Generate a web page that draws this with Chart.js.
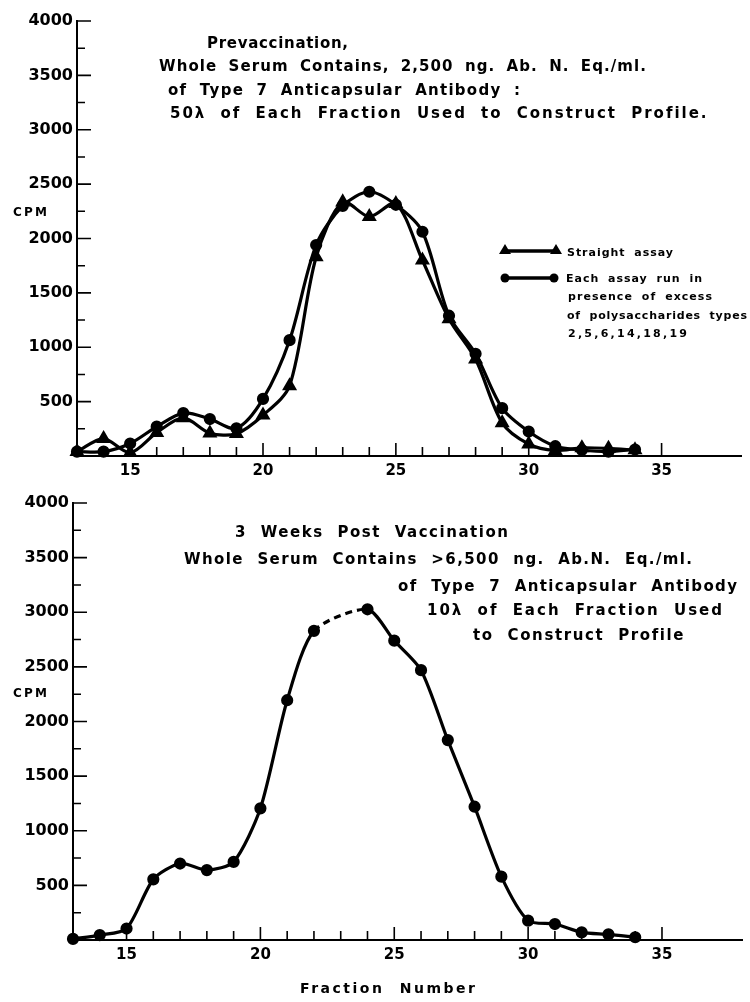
<!DOCTYPE html>
<html><head><meta charset="utf-8">
<script src="https://cdn.jsdelivr.net/npm/chart.js@4.4.1/dist/chart.umd.min.js"></script>
<style>
html,body{margin:0;padding:0;background:#fff;}
body{width:750px;height:1002px;position:relative;overflow:hidden;font-family:"DejaVu Sans",sans-serif;font-weight:bold;color:#000;}
canvas{position:absolute;left:0;}
#c1{top:0;}
#c2{top:480px;}
.t{position:absolute;white-space:pre;line-height:1;transform:translateY(-50%);}
</style></head><body>
<canvas id="c1" width="750" height="480"></canvas>
<canvas id="c2" width="750" height="522"></canvas>
<div id="labels"></div>
<script>
// ---- data ----
const fractions = [13,14,15,16,17,18,19,20,21,22,23,24,25,26,27,28,29,30,31,32,33,34];
const straightAssay =       [40,160,30,215,350,210,205,375,645,1830,2335,2200,2320,1800,1260,890,305,110,50,75,70,55];
const withPolysaccharides = [40,40,115,270,395,340,255,525,1065,1940,2300,2430,2310,2062,1290,940,440,225,90,55,40,60];
const postVaccination =     [10,45,105,555,700,640,715,1205,2195,2830,null,3027,2740,2470,1830,1220,580,177,146,70,52,25];
const xTickLabels = [15,20,25,30,35];
const yTickLabels = [500,1000,1500,2000,2500,3000,3500,4000];
const seriesNames = ["Straight assay","Each assay run in presence of excess of polysaccharides types 2,5,6,14,18,19"];

// ---- text layout: [text, left, centerY, width, fontSize, wordSpacing] ----
const textItems = [
  ["Prevaccination,",207,43,141,15,0],
  ["Whole Serum Contains, 2,500 ng. Ab. N. Eq./ml.",159,66,487,15,5],
  ["of Type 7 Anticapsular Antibody :",168,90,352,15,6],
  ["50\u03bb of Each Fraction Used to Construct Profile.",170,113,536,15,7],
  ["CPM",13,212,34,12,0],
  ["Straight assay",567,252,106,11,4],
  ["Each assay run in",566,278,136,11,4],
  ["presence of excess",568,296,144,11,4],
  ["of polysaccharides types",567,315,180,11,4],
  ["2,5,6,14,18,19",568,333,119,11,0],
  ["3 Weeks Post Vaccination",235,532,273,15,7],
  ["Whole Serum Contains >6,500 ng. Ab.N. Eq./ml.",184,559,508,15,7],
  ["of Type 7 Anticapsular Antibody",398,586,339,15,7],
  ["10\u03bb of Each Fraction Used",427,610,295,15,7],
  ["to Construct Profile",473,635,210,15,7],
  ["CPM",13,693,34,12,0],
  ["Fraction Number",300,988,175,14,8]
];

const labelsDiv = document.getElementById('labels');
textItems.forEach(([txt,x,y,w,fs,ws])=>{
  const d = document.createElement('div');
  d.className='t'; d.textContent=txt;
  d.style.left=x+'px'; d.style.top=y+'px'; d.style.fontSize=fs+'px';
  d.style.wordSpacing=ws+'px';
  labelsDiv.appendChild(d);
  const w0 = d.getBoundingClientRect().width;
  const n = txt.length;
  d.style.letterSpacing = ((w - w0)/(n-1))+'px';
});

const pts = arr => fractions.map((f,i)=>({x:f,y:arr[i]}));

const tickPlugin = {
  id:'inTicks',
  afterDraw(chart){
    const {ctx, chartArea:a, scales:{x,y}} = chart;
    ctx.save();
    ctx.strokeStyle='#000'; ctx.lineWidth=1.6;
    ctx.beginPath();
    for(let v=14; v<=35; v++){
      const px = x.getPixelForValue(v);
      const len = v%5===0 ? 13 : 9;
      ctx.moveTo(px,a.bottom); ctx.lineTo(px,a.bottom-len);
    }
    for(let v=250; v<=4000; v+=250){
      const py = y.getPixelForValue(v);
      const len = v%500===0 ? 14 : 8;
      ctx.moveTo(a.left,py); ctx.lineTo(a.left+len,py);
    }
    ctx.stroke();
    ctx.restore();
  }
};

const legendPlugin = {
  id:'legendSample',
  afterDraw(chart){
    const ctx = chart.ctx;
    ctx.save();
    ctx.fillStyle='#000'; ctx.strokeStyle='#000'; ctx.lineWidth=3.5;
    ctx.beginPath(); ctx.moveTo(505,251); ctx.lineTo(556,251); ctx.stroke();
    [505,556].forEach(cx=>{
      ctx.beginPath(); ctx.moveTo(cx,244); ctx.lineTo(cx+6,254); ctx.lineTo(cx-6,254); ctx.closePath(); ctx.fill();
    });
    ctx.beginPath(); ctx.moveTo(505,278); ctx.lineTo(554,278); ctx.stroke();
    [505,554].forEach(cx=>{ ctx.beginPath(); ctx.arc(cx,278,4.5,0,Math.PI*2); ctx.fill(); });
    ctx.restore();
  }
};

function makeChart(id, datasets, cfg, extraPlugins){
  const tickFont = {family:'DejaVu Sans', size:16, weight:'bold'};
  return new Chart(document.getElementById(id), {
    type:'line',
    data:{datasets},
    options:{
      responsive:false, animation:false, events:[],
      layout:{padding:{top:cfg.top,left:0,right:0,bottom:0}},
      plugins:{legend:{display:false}, tooltip:{enabled:false}},
      scales:{
        x:{type:'linear', min:13, max:38,
          afterFit:s=>{s.height=cfg.xh;},
          grid:{display:false, drawTicks:false},
          border:{display:true, color:'#000', width:2},
          ticks:{stepSize:1, autoSkip:false, maxRotation:0, padding:6, color:'#000', font:{family:'DejaVu Sans', size:15, weight:'bold'},
            callback:v=>xTickLabels.includes(v)?String(v):''}},
        y:{type:'linear', min:0, max:4000,
          afterFit:s=>{s.width=cfg.yw;},
          grid:{display:false, drawTicks:false},
          border:{display:true, color:'#000', width:2},
          ticks:{stepSize:250, autoSkip:false, padding:4, color:'#000', font:tickFont,
            callback:v=>yTickLabels.includes(v)?String(v):''}}
      }
    },
    plugins:[tickPlugin].concat(extraPlugins||[])
  });
}

makeChart('c1', [
  {label:seriesNames[0], data:pts(straightAssay), borderColor:'#000', backgroundColor:'#000', borderWidth:3.2,
   pointStyle:'triangle', pointRadius:5.5, tension:0.3, clip:false},
  {label:seriesNames[1], data:pts(withPolysaccharides), borderColor:'#000', backgroundColor:'#000', borderWidth:3.2,
   pointStyle:'circle', pointRadius:4.5, tension:0.3, clip:false}
], {top:21, xh:24, yw:77}, [legendPlugin]);

makeChart('c2', [
  {label:'Post vaccination', data:pts(postVaccination), borderColor:'#000', backgroundColor:'#000', borderWidth:3.2,
   pointStyle:'circle', pointRadius:4.5, tension:0.25, spanGaps:true, clip:false,
   segment:{borderDash:ctx=>(ctx.p0.skip||ctx.p1.skip)?[7,5]:undefined}}
], {top:23, xh:62, yw:73});
</script>
</body></html>
